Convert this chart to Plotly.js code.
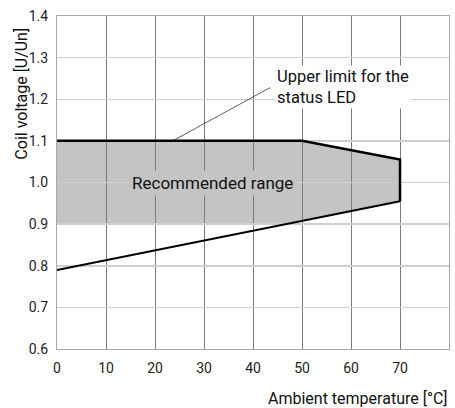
<!DOCTYPE html>
<html>
<head>
<meta charset="utf-8">
<script src="https://cdn.plot.ly/plotly-3.0.1.min.js"></script>
<style>
html,body{margin:0;padding:0;background:#fff;}
#chart{width:455px;height:408px;}
</style>
</head>
<body>
<div id="chart"></div>
<script>
// Data
const upperX = [0, 50, 70, 70];
const upperY = [1.10, 1.10, 1.055, 0.955];
const lowerX = [0, 70];
const lowerY = [0.79, 0.955];
const rangeX = [0, 50, 70, 70, 46.7, 0];
const rangeY = [1.10, 1.10, 1.055, 0.955, 0.90, 0.90];
const leaderX = [23.6, 43.5];
const leaderY = [1.10, 1.228];
const xTicks = [0, 10, 20, 30, 40, 50, 60, 70, 80];
const yTicks = [0.6, 0.7, 0.8, 0.9, 1.0, 1.1, 1.2, 1.3, 1.4];
const yTickText = ['0.6', '0.7', '0.8', '0.9', '1.0', '1.1', '1.2', '1.3', '1.4'];

const FONT = '"Liberation Sans Narrow", Roboto, sans-serif';

let path = '';
rangeX.forEach((x, i) => { path += (i === 0 ? 'M' : 'L') + x + ',' + rangeY[i]; });
path += 'Z';

const traces = [
  {x: leaderX, y: leaderY, mode: 'lines', line: {color: '#333', width: 0.8}, hoverinfo: 'skip', showlegend: false},
  {x: lowerX, y: lowerY, mode: 'lines', line: {color: '#000', width: 2}, hoverinfo: 'skip', showlegend: false},
  {x: upperX, y: upperY, mode: 'lines', line: {color: '#000', width: 2.5}, hoverinfo: 'skip', showlegend: false}
];

const layout = {
  width: 455, height: 408,
  margin: {l: 57, r: 6, t: 16, b: 59},
  paper_bgcolor: '#fff', plot_bgcolor: '#fff',
  font: {family: FONT, size: 14, color: '#222'},
  showlegend: false,
  xaxis: {
    range: [0, 80], tickvals: xTicks, ticktext: xTicks.map(String),
    showgrid: true, gridcolor: '#7a7a7a', gridwidth: 1,
    showline: true, linecolor: '#aaa', linewidth: 1, mirror: true,
    zeroline: false, ticks: '', ticklen: 0, ticklabelstandoff: 6,
    tickfont: {family: FONT, size: 14, color: '#222'}
  },
  yaxis: {
    range: [0.6, 1.4], tickvals: yTicks, ticktext: yTickText,
    showgrid: true, gridcolor: '#cfcfcf', gridwidth: 1.5,
    showline: true, linecolor: '#aaa', linewidth: 1, mirror: true,
    zeroline: false, ticks: '', ticklen: 0, ticklabelstandoff: 5,
    tickfont: {family: FONT, size: 14, color: '#222'}
  },
  shapes: [
    {type: 'path', xref: 'x', yref: 'y', path: path, fillcolor: '#c4c4c4', line: {width: 0}, layer: 'below'}
  ],
  annotations: [
    {xref: 'x', yref: 'y', x: 31.7, y: 1.0, text: 'Recommended range', showarrow: false,
     font: {family: FONT, size: 17, color: '#111'}, bgcolor: '#c4c4c4', borderpad: 2},
    {xref: 'x', yref: 'y', x: 44.5, y: 1.229, xanchor: 'left', align: 'left',
     text: 'Upper limit for the<br>status LED', showarrow: false,
     font: {family: FONT, size: 16.5, color: '#111'}, bgcolor: '#fff', borderpad: 1},
    {xref: 'paper', yref: 'paper', x: -0.09, y: 0.766, xanchor: 'center', yanchor: 'middle',
     text: 'Coil voltage [U/Un]', textangle: -90, showarrow: false,
     font: {family: FONT, size: 16, color: '#111'}},
    {xref: 'paper', yref: 'paper', x: 1.0, y: -0.115, xanchor: 'right', yanchor: 'top',
     text: 'Ambient temperature [°C]', showarrow: false,
     font: {family: FONT, size: 16, color: '#111'}}
  ]
};

Plotly.newPlot('chart', traces, layout, {displayModeBar: false, staticPlot: true});
</script>
</body>
</html>
